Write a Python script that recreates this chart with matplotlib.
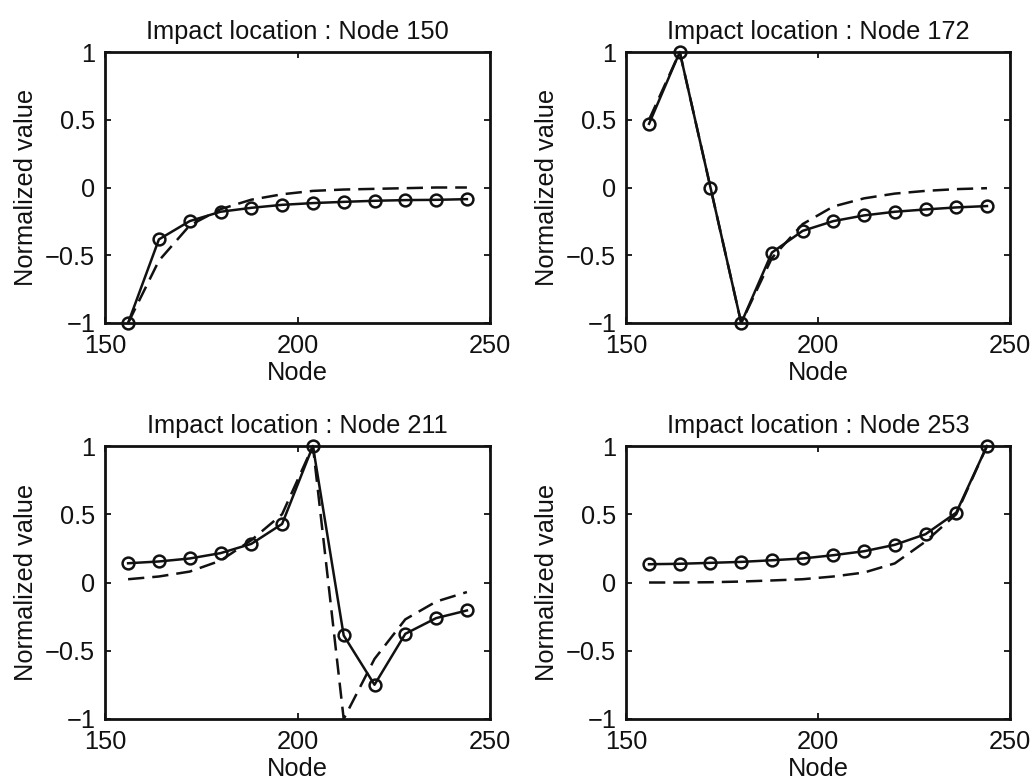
import numpy as np
import matplotlib.pyplot as plt

plt.rcParams['font.family'] = ['Liberation Sans', 'DejaVu Sans']

# Node positions of the sensors
nodes = [156, 164, 172, 180, 188, 196, 204, 212, 220, 228, 236, 244]

impact_nodes = [150, 172, 211, 253]

# Measured (solid, circles)
measured_150 = [-1.0, -0.383, -0.248, -0.179, -0.150, -0.128, -0.115, -0.106, -0.098, -0.093, -0.091, -0.086]
measured_172 = [0.47, 1.0, 0.0, -1.0, -0.48, -0.32, -0.248, -0.206, -0.179, -0.162, -0.147, -0.137]
measured_211 = [0.141, 0.154, 0.176, 0.215, 0.283, 0.429, 1.0, -0.388, -0.749, -0.376, -0.261, -0.205]
measured_253 = [0.134, 0.137, 0.144, 0.151, 0.163, 0.176, 0.200, 0.229, 0.276, 0.354, 0.512, 1.0]

# Model (dashed)
model_150 = [-1.0, -0.54, -0.28, -0.16, -0.09, -0.05, -0.025, -0.015, -0.01, -0.005, 0.0, 0.0]
model_172 = [0.5, 1.0, 0.0, -1.0, -0.52, -0.27, -0.14, -0.08, -0.045, -0.025, -0.012, -0.005]
model_211 = [0.024, 0.044, 0.08, 0.16, 0.31, 0.50, 1.0, -1.0, -0.56, -0.27, -0.14, -0.07]
model_253 = [0.0, 0.0, 0.002, 0.007, 0.015, 0.024, 0.044, 0.073, 0.14, 0.30, 0.50, 1.0]

measured = [measured_150, measured_172, measured_211, measured_253]
model = [model_150, model_172, model_211, model_253]

fig = plt.figure(figsize=(10.35, 7.84), dpi=100)

W, H = 1035.0, 784.0
# axes boxes in pixels: left, top, right, bottom
boxes = [(105, 52, 490, 323), (626, 52, 1010, 323),
         (105, 446, 490, 719), (626, 446, 1010, 719)]

fs = 18.3
for i, (l, t, r, b) in enumerate(boxes):
    ax = fig.add_axes([l / W, (H - b) / H, (r - l) / W, (b - t) / H])
    ax.plot(nodes, model[i], color='#111111', lw=1.8, linestyle=(0, (6.5, 3.2)))
    ax.plot(nodes, measured[i], color='#111111', lw=1.8, marker='o', markersize=8.5,
            markerfacecolor='none', markeredgewidth=1.8, clip_on=False)
    ax.set_xlim(150, 250)
    ax.set_ylim(-1, 1)
    ax.set_xticks([150, 200, 250])
    ax.set_yticks([-1, -0.5, 0, 0.5, 1])
    ax.set_yticklabels(['\u22121', '\u22120.5', '0', '0.5', '1'])
    ax.tick_params(direction='in', top=True, right=True, length=4, width=1.3,
                   labelsize=fs, pad=7, colors='#111111')
    ax.tick_params(axis='x', pad=8)
    for s in ax.spines.values():
        s.set_linewidth(2.0)
        s.set_color('#111111')
    ax.set_xlabel('Node', fontsize=fs, labelpad=2, color='#111111')
    ax.set_ylabel('Normalized value', fontsize=fs, labelpad=5, color='#111111')
    ax.set_title('Impact location : Node %d' % impact_nodes[i], fontsize=fs, pad=9,
                 color='#111111')

fig.savefig('out.png', dpi=100)
